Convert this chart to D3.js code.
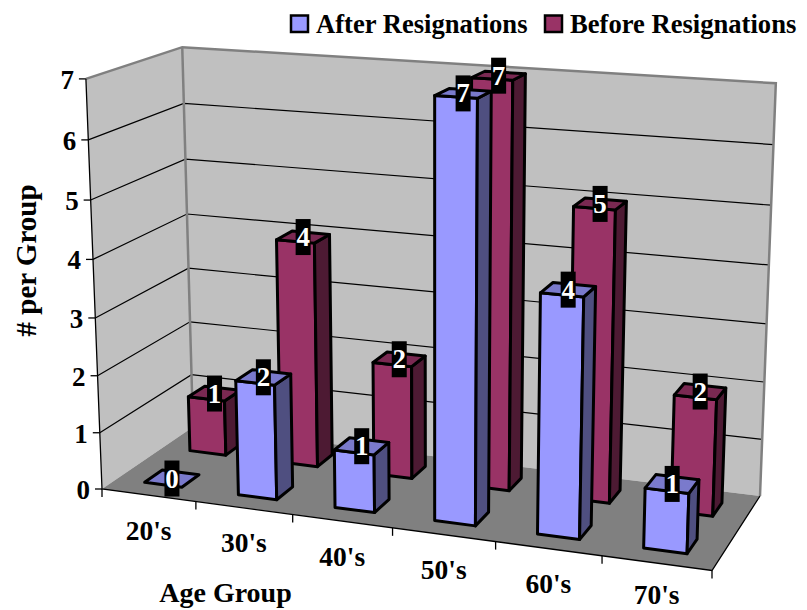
<!DOCTYPE html>
<html>
<head>
<meta charset="utf-8">
<script src="https://cdn.jsdelivr.net/npm/d3@7"></script>
<style>
  html, body { margin: 0; padding: 0; background: #fff; }
  svg { display: block; }
  text { font-family: "Liberation Serif", serif; font-weight: bold; fill: #000; }
</style>
</head>
<body>
<svg id="chart" width="807" height="610"></svg>
<script>
// Staff counts per age group
const categories = ["20's", "30's", "40's", "50's", "60's", "70's"];
const seriesNames = ["After Resignations", "Before Resignations"];
const afterValues = [0, 2, 1, 7, 4, 1];
const beforeValues = [1, 4, 2, 7, 5, 2];
const valueTicks = [0, 1, 2, 3, 4, 5, 6, 7];

const seriesColors = {
  "After Resignations": { front: "#9999ff", side: "#4f4f80", top: "#7a7acc" },
  "Before Resignations": { front: "#993366", side: "#4d1a33", top: "#7a2952" }
};

// Corners of the 3D plot box on screen
const floorFL = [102, 489], floorFR = [712, 570.5], floorBR = [760, 496], floorBL = [193, 427];
const topFL = [86, 79], topBL = [182, 50], topBR = [776, 80];

// Homography taking the unit floor square onto the floor quadrilateral
function floorHomography(p0, p1, p2, p3) {
  const dx1 = p1[0] - p2[0], dx2 = p3[0] - p2[0], sx = p0[0] - p1[0] + p2[0] - p3[0];
  const dy1 = p1[1] - p2[1], dy2 = p3[1] - p2[1], sy = p0[1] - p1[1] + p2[1] - p3[1];
  const den = dx1 * dy2 - dx2 * dy1;
  const g = (sx * dy2 - dx2 * sy) / den, h = (dx1 * sy - sx * dy1) / den;
  return [
    p1[0] - p0[0] + g * p1[0], p3[0] - p0[0] + h * p3[0], p0[0],
    p1[1] - p0[1] + g * p1[1], p3[1] - p0[1] + h * p3[1], p0[1],
    g, h, 1
  ];
}
const H = floorHomography(floorFL, floorFR, floorBR, floorBL);
const floorVec = (u, w) => [
  H[0] * u + H[1] * w + H[2],
  H[3] * u + H[4] * w + H[5],
  H[6] * u + H[7] * w + H[8]
];

// Least-squares fit of the vertical direction from the three visible top corners
function solveVertical(pairs) {
  const rows = [];
  pairs.forEach(([u, w, [X, Y]]) => {
    const b = floorVec(u, w);
    rows.push([1, 0, -X, X * b[2] - b[0]]);
    rows.push([0, 1, -Y, Y * b[2] - b[1]]);
  });
  const A = d3.range(3).map(i => d3.range(4).map(j => d3.sum(rows, r => r[i] * r[j])));
  for (let i = 0; i < 3; i++) {
    for (let r = i + 1; r < 3; r++) {
      const f = A[r][i] / A[i][i];
      for (let c = i; c < 4; c++) A[r][c] -= f * A[i][c];
    }
  }
  const x = [0, 0, 0];
  for (let i = 2; i >= 0; i--) {
    x[i] = (A[i][3] - d3.sum(d3.range(i + 1, 3), j => A[i][j] * x[j])) / A[i][i];
  }
  return x;
}
const vertical = solveVertical([[0, 0, topFL], [0, 1, topBL], [1, 1, topBR]]);

// u: along categories, w: into the page, h: up the value axis (all 0..1)
function project(u, w, h) {
  const b = floorVec(u, w);
  const q = b[2] + h * vertical[2];
  return [(b[0] + h * vertical[0]) / q, (b[1] + h * vertical[1]) / q];
}

const uCat = d3.scaleBand().domain(categories).range([0, 1]);
const uBar = d3.scaleBand().domain(categories).range([0, 1]).paddingInner(0.6).paddingOuter(0.3);
const wSeries = d3.scaleBand().domain(seriesNames).range([0, 1]).paddingInner(0.62).paddingOuter(0.31);
const hValue = d3.scaleLinear().domain([0, 7]).range([0, 1]);

const svg = d3.select("#chart");
const poly = pts => pts.map(p => p.join(",")).join(" ");
const segment = d3.line();

// Walls and floor
svg.append("polygon").attr("points", poly([project(0, 0, 0), project(0, 1, 0), project(0, 1, 1), project(0, 0, 1)])).attr("fill", "#c0c0c0");
svg.append("polygon").attr("points", poly([project(0, 1, 0), project(1, 1, 0), project(1, 1, 1), project(0, 1, 1)])).attr("fill", "#c0c0c0");
svg.append("polygon").attr("points", poly([project(0, 0, 0), project(1, 0, 0), project(1, 1, 0), project(0, 1, 0)])).attr("fill", "#808080");

// Horizontal gridlines across both walls
svg.append("g").selectAll("path").data(valueTicks.slice(1, -1)).join("path")
  .attr("d", v => segment([project(0, 0, hValue(v)), project(0, 1, hValue(v)), project(1, 1, hValue(v))]))
  .attr("fill", "none").attr("stroke", "#000").attr("stroke-width", 1.2);

// Wall outlines
svg.append("path")
  .attr("d", segment([project(0, 0, 1), project(0, 1, 1), project(1, 1, 1), project(1, 1, 0)]))
  .attr("fill", "none").attr("stroke", "#808080").attr("stroke-width", 2.5);
svg.append("path")
  .attr("d", segment([project(0, 1, 0), project(0, 1, 1)]))
  .attr("fill", "none").attr("stroke", "#808080").attr("stroke-width", 2.5);

// Axis lines along the front and right of the floor, and up the left wall
svg.append("path")
  .attr("d", segment([project(0, 0, 1), project(0, 0, 0), project(1, 0, 0), project(1, 1, 0)]))
  .attr("fill", "none").attr("stroke", "#000").attr("stroke-width", 1.3);

// Value axis ticks and labels
const yAxis = svg.append("g");
yAxis.selectAll("line").data(valueTicks).join("line")
  .attr("x1", v => project(0, 0, hValue(v))[0])
  .attr("x2", v => project(0, 0, hValue(v))[0] - 7)
  .attr("y1", v => project(0, 0, hValue(v))[1])
  .attr("y2", v => project(0, 0, hValue(v))[1])
  .attr("stroke", "#000").attr("stroke-width", 1.3);
yAxis.selectAll("text").data(valueTicks).join("text")
  .attr("x", v => project(0, 0, hValue(v))[0] - 12)
  .attr("y", v => project(0, 0, hValue(v))[1] + 10)
  .attr("text-anchor", "end").attr("font-size", 27)
  .text(d => d);

// Category ticks on the front edge
const catEdges = categories.map(c => uCat(c)).concat([1]);
svg.append("g").selectAll("line").data(catEdges).join("line")
  .attr("x1", u => project(u, 0, 0)[0])
  .attr("x2", u => project(u, 0, 0)[0])
  .attr("y1", u => project(u, 0, 0)[1])
  .attr("y2", u => project(u, 0, 0)[1] + 8)
  .attr("stroke", "#000").attr("stroke-width", 1.3);

// Category labels follow the front edge, held inside the page at the bottom
svg.append("g").selectAll("text").data(categories).join("text")
  .attr("x", c => project(uCat(c) + uCat.bandwidth() / 2, 0, 0)[0])
  .attr("y", c => Math.min(project(uCat(c) + uCat.bandwidth() / 2, 0, 0)[1] + 44.5, 604))
  .attr("text-anchor", "middle").attr("font-size", 27.5)
  .text(c => c);

// Bars: the rear series first so the front series overlaps it
const barRecords = [
  ...categories.map((c, i) => ({ cat: c, series: seriesNames[1], value: beforeValues[i] })),
  ...categories.map((c, i) => ({ cat: c, series: seriesNames[0], value: afterValues[i] }))
];

const bars = svg.append("g").selectAll("g").data(barRecords).join("g");
bars.each(function (d) {
  const u0 = uBar(d.cat), u1 = u0 + uBar.bandwidth();
  const w0 = wSeries(d.series), w1 = w0 + wSeries.bandwidth();
  const h = hValue(d.value);
  const colors = seriesColors[d.series];
  const g = d3.select(this).attr("stroke", "#000").attr("stroke-width", 3).attr("stroke-linejoin", "round");
  if (h > 0) {
    g.append("polygon").attr("fill", colors.front)
      .attr("points", poly([project(u0, w0, 0), project(u1, w0, 0), project(u1, w0, h), project(u0, w0, h)]));
    g.append("polygon").attr("fill", colors.side)
      .attr("points", poly([project(u1, w0, 0), project(u1, w1, 0), project(u1, w1, h), project(u1, w0, h)]));
  }
  g.append("polygon").attr("fill", colors.top)
    .attr("points", poly([project(u0, w0, h), project(u1, w0, h), project(u1, w1, h), project(u0, w1, h)]));
});

// Value labels sit above every bar
const labels = svg.append("g").selectAll("g").data(barRecords).join("g")
  .attr("transform", d => {
    const p = project(uBar(d.cat) + uBar.bandwidth() / 2, wSeries(d.series) + wSeries.bandwidth() / 2, hValue(d.value));
    return `translate(${p[0]},${p[1]})`;
  });
labels.append("rect").attr("x", -7.5).attr("y", -18).attr("width", 15).attr("height", 36).attr("fill", "#000");
labels.append("text").attr("y", 9).attr("text-anchor", "middle").attr("font-size", 27)
  .style("fill", "#fff").text(d => d.value);

// Axis titles
svg.append("text").attr("x", 225.5).attr("y", 602).attr("text-anchor", "middle").attr("font-size", 28).text("Age Group");
svg.append("text").attr("transform", "translate(36,260.5) rotate(-90)").attr("text-anchor", "middle").attr("font-size", 29).text("# per Group");

// Legend
const legendX = [291, 545];
const legend = svg.append("g").selectAll("g").data(seriesNames).join("g");
legend.append("rect")
  .attr("x", (d, i) => legendX[i]).attr("y", 15.5).attr("width", 17).attr("height", 16.5)
  .attr("fill", d => seriesColors[d].front).attr("stroke", "#000").attr("stroke-width", 2.5);
legend.append("text")
  .attr("x", (d, i) => legendX[i] + 25).attr("y", 33).attr("font-size", 26.6)
  .text(d => d);
</script>
</body>
</html>
